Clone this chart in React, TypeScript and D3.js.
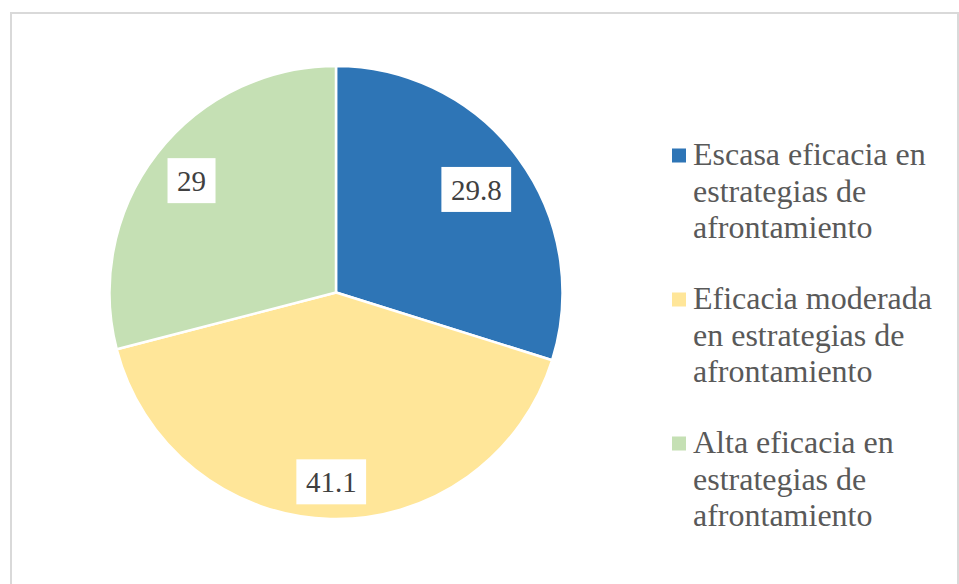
import React, { useEffect, useRef } from "react";
import * as d3 from "d3";

const categories = [
  "Escasa eficacia en estrategias de afrontamiento",
  "Eficacia moderada en estrategias de afrontamiento",
  "Alta eficacia en estrategias de afrontamiento",
];
const values = [29.8, 41.1, 29];
const colors = ["#2E75B6", "#FFE699", "#C5E0B4"];

const W = 959;
const H = 584;
const CX = 336;
const CY = 292.5;
const R = 226.5;
const FONT = "'Liberation Serif', 'Times New Roman', serif";

export default function App() {
  const ref = useRef<SVGSVGElement>(null);

  useEffect(() => {
    const svg = d3.select(ref.current);
    svg.selectAll("*").remove();

    svg
      .append("rect")
      .attr("x", 11)
      .attr("y", 13)
      .attr("width", 947)
      .attr("height", 620)
      .attr("fill", "#ffffff")
      .attr("stroke", "#D9D9D9")
      .attr("stroke-width", 2);

    const data = categories.map((c, i) => ({ name: c, value: values[i], color: colors[i] }));
    const pie = d3
      .pie<any>()
      .sort(null)
      .value((d: any) => d.value)
      .startAngle(0)
      .endAngle(2 * Math.PI);
    const arcs = pie(data);
    const arc = d3.arc<any>().innerRadius(0).outerRadius(R);

    const g = svg.append("g").attr("transform", `translate(${CX},${CY})`);
    g.selectAll("path.slice")
      .data(arcs)
      .enter()
      .append("path")
      .attr("class", "slice")
      .attr("d", arc as any)
      .attr("fill", (d: any) => d.data.color)
      .attr("stroke", "#ffffff")
      .attr("stroke-width", 2.5)
      .attr("stroke-linejoin", "round");

    // data labels (inside end)
    const labelFont = 29;
    arcs.forEach((a: any) => {
      const lg = g.append("g");
      const txt = lg
        .append("text")
        .attr("font-family", FONT)
        .attr("font-size", labelFont)
        .attr("fill", "#404040")
        .attr("text-anchor", "middle")
        .text(String(a.data.value));
      const tw = (txt.node() as SVGTextElement).getComputedTextLength();
      const bw = tw + 19;
      const bh = 45;
      const mid = (a.startAngle + a.endAngle) / 2;
      const sx = Math.sin(mid);
      const sy = -Math.cos(mid);
      const target = R - 11;
      let lo = 0;
      let hi = R;
      for (let k = 0; k < 60; k++) {
        const t = (lo + hi) / 2;
        const dx = Math.abs(t * sx) + bw / 2;
        const dy = Math.abs(t * sy) + bh / 2;
        if (Math.sqrt(dx * dx + dy * dy) > target) hi = t;
        else lo = t;
      }
      const px = lo * sx;
      const py = lo * sy;
      lg.insert("rect", "text")
        .attr("x", px - bw / 2)
        .attr("y", py - bh / 2)
        .attr("width", bw)
        .attr("height", bh)
        .attr("fill", "#ffffff");
      txt.attr("x", px).attr("y", py + labelFont * 0.36);
    });

    // legend
    const legendFont = 32;
    const lineH = 36.5;
    const itemStep = 144;
    const legX = 672;
    const textX = 693;
    const firstBase = 165;
    const maxW = 250;
    data.forEach((d, i) => {
      const base = firstBase + i * itemStep;
      svg
        .append("rect")
        .attr("x", legX)
        .attr("y", base - 9.5 - 7)
        .attr("width", 14)
        .attr("height", 14)
        .attr("fill", d.color);
      const words = d.name.split(" ");
      const lines: string[] = [];
      let cur = "";
      const probe = svg
        .append("text")
        .attr("font-family", FONT)
        .attr("font-size", legendFont);
      words.forEach((w) => {
        const test = cur ? cur + " " + w : w;
        probe.text(test);
        if ((probe.node() as SVGTextElement).getComputedTextLength() > maxW && cur) {
          lines.push(cur);
          cur = w;
        } else cur = test;
      });
      if (cur) lines.push(cur);
      probe.remove();
      lines.forEach((ln, j) => {
        svg
          .append("text")
          .attr("x", textX)
          .attr("y", base + j * lineH)
          .attr("font-family", FONT)
          .attr("font-size", legendFont)
          .attr("fill", "#595959")
          .text(ln);
      });
    });
  }, []);

  return (
    <svg
      ref={ref}
      width={W}
      height={H}
      style={{ position: "absolute", left: 0, top: 0, display: "block" }}
    />
  );
}
